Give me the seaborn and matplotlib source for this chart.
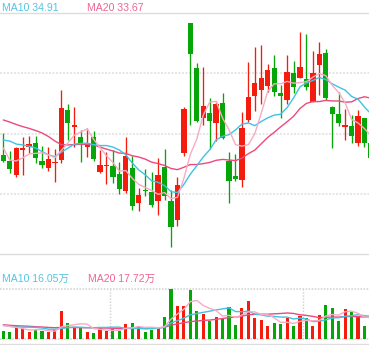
import numpy as np
import pandas as pd
import matplotlib
matplotlib.use("Agg")
import matplotlib.pyplot as plt
from matplotlib.lines import Line2D
import seaborn as sns

sns.set_theme(style="white")
plt.rcParams["font.family"] = ["Liberation Sans", "Noto Sans CJK SC", "DejaVu Sans"]
plt.rcParams["lines.scale_dashes"] = False

# ---- daily candles ----
open_ = [33.32, 33.13, 32.65, 33.48, 33.59, 33.72, 33.13, 32.89, 33.04, 33.15,
         34.81, 34.26, 33.92, 33.59, 33.92, 32.76, 32.94, 32.95, 32.69, 32.13,
         32.89, 31.71, 32.14, 32.09, 31.80, 32.93, 31.79, 31.16, 33.37, 37.69,
         36.19, 34.55, 34.71, 34.39, 35.04, 33.12, 32.62, 32.50, 34.48, 35.28,
         35.47, 35.62, 36.21, 35.38, 35.14, 36.03, 35.88, 35.83, 35.09, 36.30,
         36.69, 34.90, 34.67, 34.26, 34.28, 33.72, 34.53, 33.70]
close = [33.13, 32.86, 33.54, 33.54, 33.68, 33.21, 32.98, 33.19, 33.09, 34.89,
         34.39, 34.30, 33.72, 33.61, 33.17, 32.98, 32.97, 32.60, 32.19, 33.28,
         31.63, 31.99, 32.12, 31.66, 32.65, 31.95, 30.94, 32.32, 34.84, 36.66,
         34.44, 34.94, 34.44, 35.01, 33.87, 32.46, 32.53, 34.20, 35.24, 35.70,
         35.88, 36.14, 35.42, 35.28, 36.06, 35.58, 36.25, 35.58, 36.03, 36.67,
         35.22, 34.67, 34.37, 34.30, 33.96, 34.61, 33.72, 33.22]
high = [34.05, 33.45, 33.57, 33.90, 33.96, 33.95, 33.61, 33.57, 33.52, 35.47,
        35.01, 34.92, 34.15, 34.20, 34.12, 33.48, 33.43, 33.48, 33.09, 33.90,
        33.29, 32.21, 32.85, 32.74, 33.21, 33.51, 32.15, 32.60, 34.92, 37.71,
        36.36, 36.25, 35.20, 35.11, 35.36, 33.43, 33.34, 34.75, 36.41, 36.91,
        36.97, 36.33, 36.64, 35.64, 36.64, 36.44, 37.41, 37.33, 36.77, 37.08,
        36.83, 34.95, 35.42, 34.84, 34.64, 34.81, 34.53, 33.72]
low = [33.08, 32.71, 32.60, 32.65, 33.37, 33.04, 32.87, 32.78, 32.43, 33.04,
       33.81, 33.57, 33.09, 33.26, 33.13, 32.71, 32.34, 32.40, 32.01, 32.04,
       31.49, 31.47, 31.95, 31.58, 31.32, 31.82, 30.27, 30.96, 33.28, 34.31,
       34.42, 34.31, 33.52, 33.78, 33.85, 31.73, 32.46, 32.26, 34.42, 34.78,
       35.00, 35.42, 35.28, 34.53, 35.00, 35.36, 35.86, 35.47, 35.07, 35.31,
       35.14, 33.56, 34.29, 33.81, 33.72, 33.61, 33.59, 33.15]

# ---- price moving averages ----
ma5 = [33.55, 33.15, 33.12, 33.22, 33.35, 33.37, 33.39, 33.32, 33.23, 33.47,
       33.71, 33.97, 34.08, 34.18, 33.84, 33.56, 33.29, 33.07, 32.78, 32.80,
       32.54, 32.34, 32.24, 32.14, 32.01, 32.07, 31.87, 31.91, 32.54, 33.34,
       33.84, 34.64, 35.07, 35.10, 34.54, 34.15, 33.66, 33.61, 33.66, 34.03,
       34.71, 35.43, 35.68, 35.68, 35.76, 35.70, 35.72, 35.75, 35.90, 36.02,
       35.95, 35.63, 35.39, 35.05, 34.50, 34.38, 34.19, 33.96]
ma10 = [33.81, 33.78, 33.68, 33.65, 33.61, 33.55, 33.43, 33.32, 33.26, 33.41,
        33.54, 33.68, 33.70, 33.71, 33.66, 33.63, 33.63, 33.58, 33.48, 33.32,
        33.05, 32.82, 32.66, 32.46, 32.41, 32.30, 32.10, 32.07, 32.34, 32.68,
        32.96, 33.25, 33.49, 33.82, 33.94, 33.99, 34.15, 34.34, 34.38, 34.29,
        34.43, 34.55, 34.64, 34.67, 34.89, 35.21, 35.58, 35.71, 35.79, 35.89,
        35.82, 35.68, 35.57, 35.47, 35.26, 35.17, 34.91, 34.68]
ma20 = [34.48, 34.41, 34.33, 34.26, 34.20, 34.13, 34.05, 33.93, 33.78, 33.66,
        33.65, 33.66, 33.67, 33.67, 33.65, 33.58, 33.51, 33.45, 33.38, 33.37,
        33.29, 33.25, 33.18, 33.08, 33.03, 32.97, 32.87, 32.83, 32.91, 33.00,
        33.00, 33.03, 33.07, 33.14, 33.17, 33.15, 33.13, 33.21, 33.36, 33.48,
        33.69, 33.90, 34.07, 34.25, 34.42, 34.60, 34.86, 35.03, 35.09, 35.09,
        35.13, 35.11, 35.11, 35.07, 35.08, 35.19, 35.25, 35.20]

# ---- volume (万) and its moving averages ----
volume = [5.2, 4.5, 8.7, 7.1, 4.5, 5.9, 5.4, 4.5, 5.7, 19.3,
          10.8, 8.2, 7.8, 4.5, 3.8, 8.0, 5.4, 6.8, 5.2, 10.1,
          10.8, 8.7, 4.5, 5.9, 7.5, 15.1, 34.9, 22.9, 22.9, 34.2,
          19.3, 17.2, 12.5, 15.1, 14.6, 22.2, 9.4, 21.4, 26.4, 14.4,
          13.0, 8.7, 10.8, 10.1, 14.6, 8.7, 16.0, 14.4, 8.7, 16.5,
          23.6, 21.4, 12.3, 20.7, 18.4, 15.8, 8.7, 10.6]
vol_ma5 = [9.2, 8.5, 7.9, 7.0, 6.00, 6.14, 6.32, 5.48, 5.20, 8.16,
           9.14, 9.70, 10.36, 10.12, 7.02, 6.46, 5.90, 5.70, 5.84, 7.10,
           7.66, 8.32, 7.86, 8.00, 7.48, 8.34, 13.58, 17.26, 20.66, 26.00,
           26.84, 23.30, 21.22, 19.66, 15.74, 16.32, 14.76, 16.54, 18.80, 18.76,
           16.92, 16.78, 14.66, 11.40, 11.44, 10.58, 12.04, 12.76, 12.48, 12.86,
           15.84, 16.92, 16.50, 18.90, 19.28, 17.72, 15.18, 14.84]
vol_ma10 = [9.2, 8.6, 8.1, 8.0, 8.0, 7.8, 7.4, 6.6, 6.5, 7.08,
            7.64, 8.01, 7.92, 7.66, 7.59, 7.80, 7.80, 8.03, 7.98, 7.06,
            7.06, 7.11, 6.78, 6.92, 7.29, 8.00, 10.95, 12.56, 14.33, 16.74,
            17.59, 18.44, 19.24, 20.16, 20.87, 21.58, 19.03, 18.88, 19.23, 17.25,
            16.62, 15.77, 15.60, 15.10, 15.10, 13.75, 14.41, 13.71, 11.94, 12.15,
            13.21, 14.48, 14.63, 15.69, 16.07, 16.78, 16.05, 15.67]
vol_ma20 = [9.7, 9.3, 9.0, 8.8, 8.6, 8.3, 8.1, 7.8, 7.6, 7.8,
            7.8, 7.8, 7.6, 7.6, 7.6, 7.4, 7.4, 7.2, 7.1, 7.07,
            7.35, 7.56, 7.35, 7.29, 7.44, 7.90, 9.38, 10.30, 11.16, 11.90,
            12.33, 12.78, 13.01, 13.54, 14.08, 14.79, 14.99, 15.72, 16.78, 17.00,
            17.11, 17.11, 17.42, 17.63, 17.99, 17.67, 16.72, 16.30, 15.59, 14.70,
            14.92, 15.13, 15.12, 15.40, 15.59, 15.27, 15.23, 14.69]

price_labels = ["MA10 34.91", "MA20 33.67"]
volume_labels = ["MA10 16.05万", "MA20 17.72万"]
month_breaks = [16.5, 46.5]

UP = "#f31c0d"
DOWN = "#07a608"
C_MA5 = "#f9abc4"
C_MA10 = "#3fc3e3"
C_MA20 = "#ec4a7c"
T_MA10 = "#52c5e3"
T_MA20 = "#ef6592"

df = pd.DataFrame({"day": np.arange(len(close)), "open": open_, "close": close,
                   "high": high, "low": low, "ma5": ma5, "ma10": ma10, "ma20": ma20,
                   "volume": volume, "vma5": vol_ma5, "vma10": vol_ma10, "vma20": vol_ma20})
df["dir"] = np.where(df["close"] >= df["open"], "up", "down")
df["color"] = np.where(df["dir"] == "up", UP, DOWN)

W, H = 369, 345
fig = plt.figure(figsize=(W / 100, H / 100), dpi=100, facecolor="white")

def frame(top_px, bottom_px):
    return [0, (H - bottom_px) / H, 1, (bottom_px - top_px) / H]

ax = fig.add_axes(frame(13, 254))
axv = fig.add_axes(frame(289, 338.5))
XL = (-0.512, 56.70)

# price gridlines
for g in (32.03, 34.03, 36.03):
    ax.axhline(g, color="#e6e6e6", lw=1.44, ls=(0, (1.44, 1.08)), zorder=0)

# candles: wicks then bodies
ax.vlines(df["day"], df["low"], df["high"], colors=df["color"], lw=0.95, zorder=2)
body_low = np.minimum(df["open"], df["close"])
body_h = np.maximum((df["close"] - df["open"]).abs(), 0.045)
ax.bar(df["day"], body_h, bottom=body_low, width=0.82, color=df["color"],
       linewidth=0, zorder=3)

# moving averages
for col, c in (("ma20", C_MA20), ("ma10", C_MA10), ("ma5", C_MA5)):
    sns.lineplot(data=df, x="day", y=col, color=c, lw=1.0, ax=ax, zorder=4)

ax.set_xlim(*XL)
ax.set_ylim(30.03, 38.03)

# volume bars and averages
sns.barplot(data=df, x="day", y="volume", hue="dir",
            palette={"up": UP, "down": DOWN}, native_scale=True, width=0.48,
            saturation=1, errorbar=None, legend=False, linewidth=0, ax=axv, zorder=2)
for col, c in (("vma20", C_MA20), ("vma10", C_MA10), ("vma5", C_MA5)):
    sns.lineplot(data=df, x="day", y=col, color=c, lw=1.0, ax=axv, zorder=4)
axv.set_xlim(*XL)
axv.set_ylim(0, max(volume))
for yv in (0, max(volume)):
    axv.axhline(yv, color="#cfcfcf", lw=1.1, ls=(0, (1.1, 1.1)), zorder=1, clip_on=False)
for xb in month_breaks:
    axv.axvline(xb, color="#cfcfcf", lw=1.0, ls=(0, (1.0, 1.2)), zorder=1)

for a in (ax, axv):
    a.set_xlabel("")
    a.set_ylabel("")
    a.set_xticks([])
    a.set_yticks([])
    for s in a.spines.values():
        s.set_visible(False)
    a.set_facecolor("none")

# panel separators
for ypx in (13, 253.5, 344):
    fig.add_artist(Line2D([0, 1], [1 - ypx / H, 1 - ypx / H], transform=fig.transFigure,
                          color="#dcdcdc", lw=1.0))

# legend texts
fs = 7.6
fig.text(2.3 / W, 1 - 7.8 / H, price_labels[0], color=T_MA10, fontsize=fs, va="center", ha="left")
fig.text(87.3 / W, 1 - 7.8 / H, price_labels[1], color=T_MA20, fontsize=fs, va="center", ha="left")
fig.text(2.3 / W, 1 - 279 / H, volume_labels[0], color=T_MA10, fontsize=fs, va="center", ha="left")
fig.text(87.7 / W, 1 - 279 / H, volume_labels[1], color=T_MA20, fontsize=fs, va="center", ha="left")

fig.savefig("out.png", dpi=100, facecolor="white")
